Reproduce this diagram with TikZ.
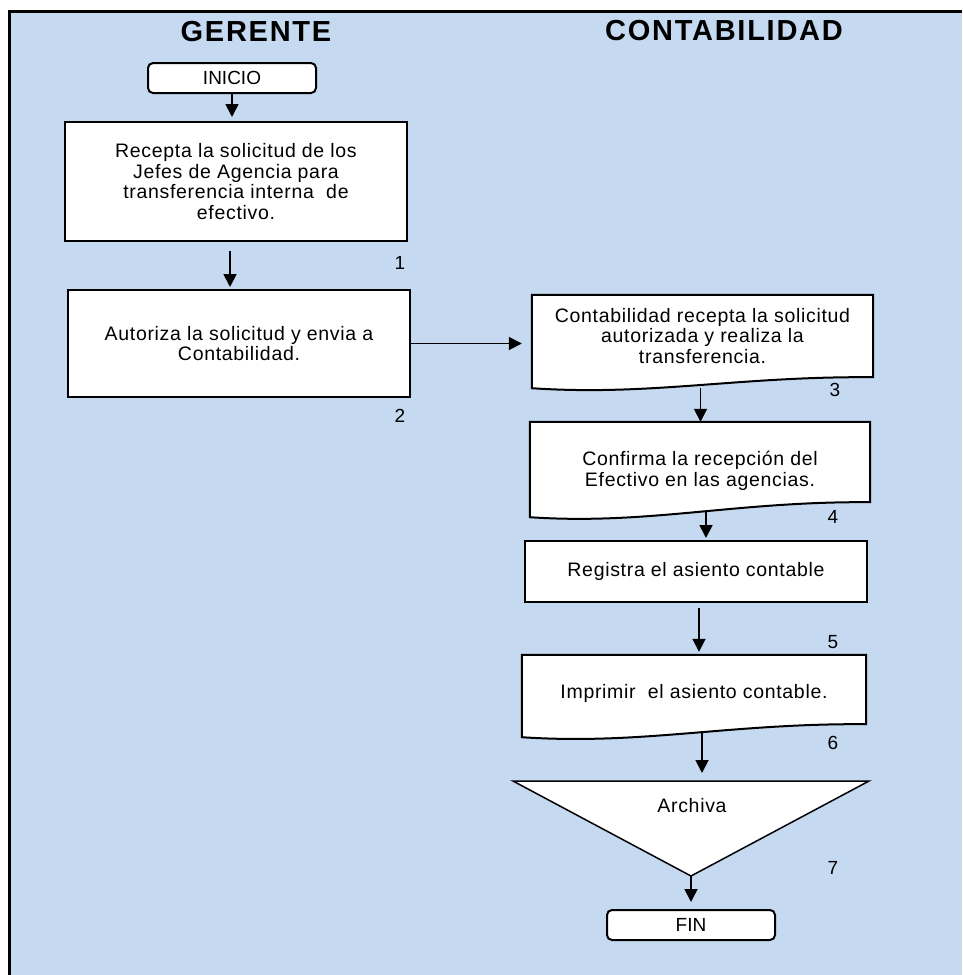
\documentclass[tikz,border=0pt]{standalone}
\usepackage{fontspec}
\setmainfont{Liberation Sans}
\newfontfamily\bodyfont[LetterSpace=3.5]{Liberation Sans}
\newfontfamily\titlefont[LetterSpace=6]{Liberation Sans}
\usetikzlibrary{arrows.meta,calc}
\pgfdeclarelayer{bg}
\pgfdeclarelayer{shapes}
\pgfsetlayers{bg,shapes,main}
\definecolor{bgblue}{RGB}{197,217,241}
\newcommand\docshape[3]{%
 \begin{pgfonlayer}{shapes}
 \draw[boxline] ($(#1.south east)+(0,#3)$) -- (#1.north east) -- (#1.north west) -- ($(#1.south west)+(0,#2)$)
  .. controls ($(#1.south west)!0.35!(#1.south east)+(0,#2+8)$) and ($(#1.south west)!0.6!(#1.south east)+(0,#3-1)$) .. ($(#1.south east)+(0,#3)$) -- cycle;
 \end{pgfonlayer}}
\begin{document}
\begin{tikzpicture}[x=1pt, y=-1pt,
  boxline/.style={draw=black, line width=2pt, fill=white, line join=miter},
  body/.style={font=\bodyfont\fontsize{19.5}{20.7}\selectfont},
  box/.style={boxline, rectangle, inner sep=0pt, align=center, body},
  docnode/.style={rectangle, inner sep=0pt, align=center, body},
  term/.style={boxline, rectangle, rounded corners=5pt, inner sep=0pt, align=center, minimum width=168pt, minimum height=30pt, font=\fontsize{19}{20}\selectfont},
  txt/.style={inner sep=0pt, align=center, body},
  num/.style={inner sep=0pt, font=\fontsize{19}{20}\selectfont},
  title/.style={inner sep=0pt, font=\titlefont\bfseries\fontsize{29}{32}\selectfont},
  arr/.style={line width=1.8pt, -{Triangle[length=13pt,width=13pt]}}]
\useasboundingbox (0,0) rectangle (962,975);
\begin{pgfonlayer}{bg}
\fill[bgblue] (8,11) rectangle (962,975);
\draw[line width=3pt] (962,11.5) -- (9,11.5) -- (9,975);
\end{pgfonlayer}

\node[title] (gerente) at (256,32) {GERENTE};
\node[title] (contab) at (724,31) {CONTABILIDAD};

\node[term] (inicio) at (232,78) {INICIO};
\node[box, minimum width=342pt, minimum height=119pt] (b1) at (236,181.5)
  {Recepta la solicitud de los\\Jefes de Agencia para\\transferencia interna\ \ de\\efectivo.};
\node[box, minimum width=342pt, minimum height=107pt] (b2) at (239,343.5)
  {Autoriza la solicitud y envia a\\Contabilidad.};

\node[docnode, minimum width=341pt, minimum height=82pt] (d3) at (702.5,336)
  {Contabilidad recepta la solicitud\\autorizada y realiza la\\transferencia.};
\docshape{d3}{11}{0}
\node[docnode, minimum width=340pt, minimum height=98pt] (d4) at (700,471)
  {Confirma la recepción del\\Efectivo en las agencias.};
\docshape{d4}{-3}{-18}
\node[box, minimum width=342pt, minimum height=61pt] (b5) at (696,571.5)
  {Registra el asiento contable};
\node[docnode, minimum width=344pt, minimum height=76pt] (d6) at (694,693)
  {Imprimir\ \ el asiento contable.};
\docshape{d6}{6}{-7}

\coordinate (tl) at (513,781);
\coordinate (tr) at (869,781);
\coordinate (tb) at (691,876);
\draw[boxline, line width=1.5pt] (tl) -- (tr) -- (tb) -- cycle;
\node[txt] (arch) at (692,806) {Archiva};

\node[term] (fin) at (691,925) {FIN};

\node[num] (n1) at (400,263) {1};
\node[num] (n2) at (400,416) {2};
\node[num] (n3) at (835,390) {3};
\node[num] (n4) at (833,517) {4};
\node[num] (n5) at (833,642) {5};
\node[num] (n6) at (833,743) {6};
\node[num] (n7) at (833,868) {7};

\draw[arr, shorten >=4pt] (inicio.south) -- (inicio.south |- b1.north);
\coordinate (c1) at ($(b1.south)+(-6,9)$);
\draw[arr, shorten >=2pt] (c1) -- (c1 |- b2.north);
\draw[arr, shorten >=10pt] (b2.east) -- (b2.east -| d3.west);
\coordinate (c3) at ($(d3.south)+(-2,11)$);
\draw[arr] (c3) -- (c3 |- d4.north);
\coordinate (c4) at ($(d4.south)+(6,-9)$);
\draw[arr, shorten >=2pt] (c4) -- (c4 |- b5.north);
\coordinate (c5) at ($(b5.south)+(3,5)$);
\draw[arr, shorten >=3pt] (c5) -- (c5 |- d6.north);
\coordinate (c6) at ($(d6.south)+(8,2)$);
\draw[arr, shorten >=8pt] (c6) -- (c6 |- tl);
\draw[arr, shorten >=7pt] (tb) -- (tb |- fin.north);
\end{tikzpicture}
\end{document}
